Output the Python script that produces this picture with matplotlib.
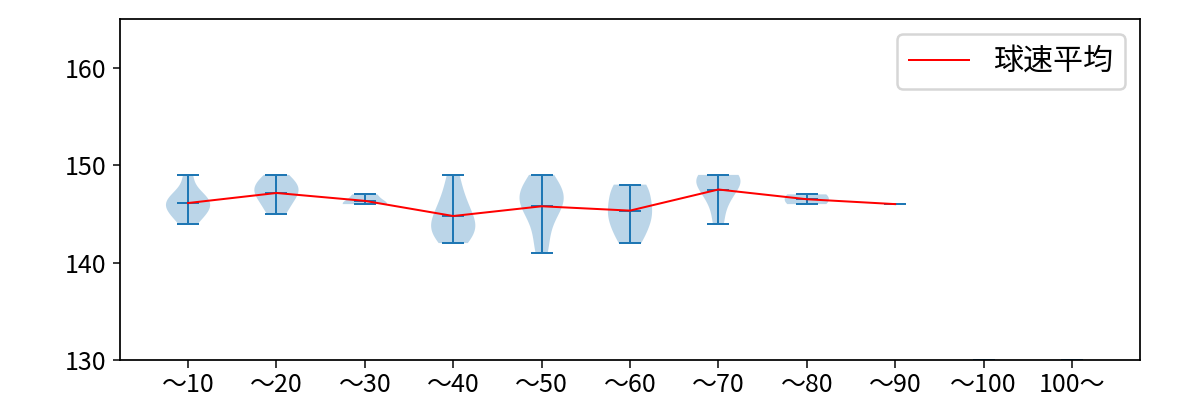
import matplotlib
matplotlib.use("Agg")
import matplotlib.pyplot as plt
import numpy as np

plt.rcParams['font.family'] = ['Noto Sans CJK JP', 'DejaVu Sans']

categories = ['～10', '～20', '～30', '～40', '～50', '～60', '～70', '～80', '～90', '～100', '100～']
speeds = [
    [144, 145, 145, 146, 146, 146, 147, 147, 149],
    [145, 146, 147, 147, 148, 148, 149],
    [146, 146, 147],
    [142, 143, 143, 144, 144, 145, 146, 147, 149],
    [141, 143, 145, 146, 146, 147, 147, 148, 149],
    [142, 143, 144, 145, 145, 146, 147, 148, 148],
    [144, 146, 147, 148, 148, 149, 149, 149],
    [146, 147],
    [146],
    [130],
    [130],
]
mean_label = '球速平均'
n_with_data = 9

DPI = 180
fig = plt.figure(figsize=(1200 / DPI, 400 / DPI), dpi=DPI)
ax = fig.add_axes([0.1, 0.1, 0.85, 0.8525])
positions = np.arange(1, len(categories) + 1)
parts = ax.violinplot(speeds, positions=positions, showmeans=True, showextrema=True)
for key in ('cmins', 'cmaxes', 'cbars', 'cmeans'):
    parts[key].set_linewidth(0.8)
means = [np.mean(s) for s in speeds[:n_with_data]]
ax.plot(positions[:n_with_data], means, color='red', linewidth=0.8, label=mean_label)
ax.set_xticks(positions)
ax.set_xticklabels(categories, fontsize=10)
ax.tick_params(axis='both', length=3, width=0.6)
ax.tick_params(axis='x', pad=2)
ax.tick_params(axis='y', labelsize=10, pad=2.5)
for sp in ax.spines.values():
    sp.set_linewidth(0.7)
ax.set_ylim(130, 165)
ax.set_yticks([130, 140, 150, 160])
ax.set_xlim(0.23, 11.77)
ax.legend(loc='upper right', fontsize=12)
fig.savefig('out.png', dpi=DPI)
